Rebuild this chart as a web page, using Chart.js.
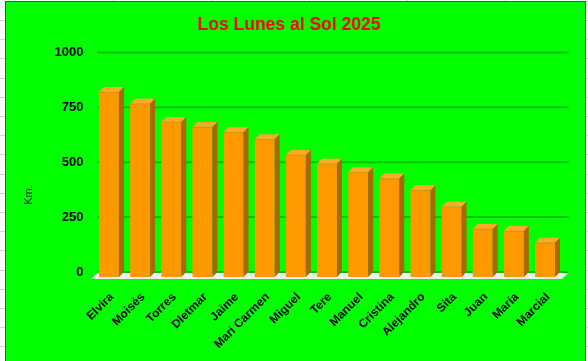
<!DOCTYPE html>
<html>
<head>
<meta charset="utf-8">
<script src="https://cdn.jsdelivr.net/npm/chart.js@4"></script>
<style>
html,body{margin:0;padding:0;background:#ffffff;}
#wrap{position:relative;width:588px;height:361px;}
</style>
</head>
<body>
<div id="wrap"><canvas id="c" width="588" height="361"></canvas></div>
<script>
const categories = ["Elvira","Moisés","Torres","Dletmar","Jaime","Mari Carmen","Miguel","Tere","Manuel","Cristina","Alejandro","Sita","Juan","María","Marcial"];
const kmValues = [842, 789, 706, 683, 659, 627, 556, 516, 477, 449, 395, 320, 219, 209, 156];
const yTicks = [0, 250, 500, 750, 1000];
const titleText = "Los Lunes al Sol 2025";
const yAxisTitle = "Km.";

const DEPTH = 5;

const framePlugin = {
  id: 'frame',
  beforeDraw(chart) {
    const ctx = chart.ctx;
    const W = chart.width, H = chart.height;
    ctx.save();
    ctx.fillStyle = '#ffffff';
    ctx.fillRect(0, 0, W, H);
    ctx.strokeStyle = '#d4d4d4';
    ctx.lineWidth = 1;
    for (let y = 20; y < H; y += 19.2) {
      ctx.beginPath(); ctx.moveTo(0, Math.round(y) + 0.5); ctx.lineTo(5, Math.round(y) + 0.5); ctx.stroke();
      ctx.beginPath(); ctx.moveTo(586, Math.round(y) + 0.5); ctx.lineTo(W, Math.round(y) + 0.5); ctx.stroke();
    }
    [113, 211, 309, 407, 505].forEach(x => {
      ctx.beginPath(); ctx.moveTo(x + 0.5, 0); ctx.lineTo(x + 0.5, 1); ctx.stroke();
    });
    ctx.fillStyle = '#00ff00';
    ctx.fillRect(5, 1, 581, H);
    ctx.strokeStyle = '#ff0000';
    ctx.lineWidth = 1;
    ctx.strokeRect(5.5, 1.5, 580, H + 10);
    ctx.restore();
  },
  beforeDatasetsDraw(chart) {
    const ctx = chart.ctx;
    const ys = chart.scales.y;
    const area = chart.chartArea;
    ctx.save();
    ctx.strokeStyle = '#00c400';
    ctx.lineWidth = 2;
    yTicks.forEach(v => {
      const y = ys.getPixelForValue(v) - DEPTH;
      ctx.beginPath();
      ctx.moveTo(area.left + 4, y);
      ctx.lineTo(area.right + 8, y);
      ctx.stroke();
    });
    const base = ys.getPixelForValue(0);
    ctx.fillStyle = '#eef2ee';
    ctx.beginPath();
    ctx.moveTo(area.left - 2, base + 2);
    ctx.lineTo(area.right + 1, base + 2);
    ctx.lineTo(area.right + 8, base - DEPTH + 1);
    ctx.lineTo(area.left + 4, base - DEPTH + 1);
    ctx.closePath();
    ctx.fill();
    ctx.fillStyle = '#002a00';
    ctx.font = '11px "Liberation Sans", Arial, sans-serif';
    ctx.textAlign = 'center';
    ctx.textBaseline = 'middle';
    ctx.translate(29, 195);
    ctx.rotate(-Math.PI / 2);
    ctx.fillText(yAxisTitle, 0, 0);
    ctx.restore();
  },
  afterDatasetsDraw(chart) {
    const ctx = chart.ctx;
    const meta = chart.getDatasetMeta(0);
    const base = chart.scales.y.getPixelForValue(0);
    ctx.save();
    meta.data.forEach(bar => {
      const p = bar.getProps(['x', 'y', 'width'], true);
      const x1 = p.x - p.width / 2, x2 = p.x + p.width / 2, y = p.y;
      ctx.fillStyle = '#fbaa2c';
      ctx.beginPath();
      ctx.moveTo(x1, y); ctx.lineTo(x2, y);
      ctx.lineTo(x2 + DEPTH, y - DEPTH); ctx.lineTo(x1 + DEPTH, y - DEPTH);
      ctx.closePath(); ctx.fill();
      ctx.fillStyle = '#a86800';
      ctx.beginPath();
      ctx.moveTo(x2, y); ctx.lineTo(x2 + DEPTH, y - DEPTH);
      ctx.lineTo(x2 + DEPTH, base - DEPTH); ctx.lineTo(x2, base);
      ctx.closePath(); ctx.fill();
      ctx.strokeStyle = '#c88a10';
      ctx.lineWidth = 0.6;
      ctx.beginPath(); ctx.moveTo(x1, y + 0.3); ctx.lineTo(x2, y + 0.3); ctx.stroke();
    });
    ctx.restore();
  }
};

new Chart(document.getElementById('c'), {
  type: 'bar',
  data: {
    labels: categories,
    datasets: [{
      label: yAxisTitle,
      data: kmValues,
      backgroundColor: '#ff9900',
      borderWidth: 0,
      barPercentage: 0.64,
      categoryPercentage: 1.0
    }]
  },
  options: {
    responsive: false,
    animation: false,
    devicePixelRatio: 1,
    layout: { padding: { left: 0, right: 10, top: 0, bottom: 0 } },
    plugins: {
      legend: { display: false },
      tooltip: { enabled: false },
      title: {
        display: true,
        text: titleText,
        color: '#ff0000',
        font: { family: '"Liberation Sans", Arial, sans-serif', size: 17.5, weight: 'bold' },
        padding: { top: 14.5, bottom: 21.9 }
      }
    },
    scales: {
      x: {
        grid: { display: false, drawTicks: false },
        border: { display: false },
        ticks: {
          color: '#000000',
          autoSkip: false,
          minRotation: 45,
          maxRotation: 45,
          padding: 13,
          labelOffset: 3,
          font: { family: '"Liberation Sans", Arial, sans-serif', size: 12, weight: 'bold' }
        },
        afterFit(scale) { scale.height = 84; }
      },
      y: {
        min: 0,
        max: 1000,
        afterBuildTicks(scale) { scale.ticks = yTicks.map(v => ({ value: v })); },
        grid: { display: false, drawTicks: false },
        border: { display: false },
        ticks: {
          color: '#000000',
          padding: 10,
          labelOffset: -4.7,
          callback: (v) => String(v),
          font: { family: '"Liberation Sans", Arial, sans-serif', size: 13, weight: 'bold' }
        },
        afterFit(scale) { scale.width = 93.4; }
      },
      yR: {
        position: 'right',
        display: true,
        grid: { display: false, drawTicks: false },
        border: { display: false },
        ticks: { display: false },
        afterFit(scale) { scale.width = 17.4; }
      }
    }
  },
  plugins: [framePlugin]
});
</script>
</body>
</html>
